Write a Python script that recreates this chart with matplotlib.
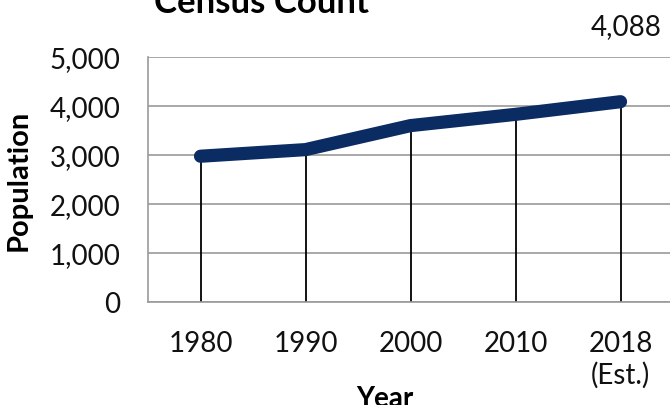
import matplotlib

matplotlib.use("Agg")
import matplotlib.pyplot as plt
from matplotlib.ticker import FuncFormatter

# census counts
YEAR_LABELS = ["1980", "1990", "2000", "2010", "2018\n(Est.)"]
POPULATION = [2975, 3110, 3600, 3830, 4088]
Y_TICKS = [0, 1000, 2000, 3000, 4000, 5000]

LINE_COLOR = "#0b2b63"
GRID_COLOR = "#9a9a9a"
FONT = ["Lato", "DejaVu Sans"]

plt.rcParams["font.family"] = FONT

fig = plt.figure(figsize=(6.7, 4.06), dpi=100)
ax = fig.add_axes([0.2209, 0.2537, 0.7836, 0.6034])

xs = list(range(len(YEAR_LABELS)))

# drop lines from each point to the axis
ax.vlines(xs, 0, POPULATION, color="black", linewidth=1.3, zorder=2)
ax.plot(xs, POPULATION, color=LINE_COLOR, linewidth=9.5,
        solid_capstyle="round", solid_joinstyle="round", zorder=3)

# label only the latest estimate
ax.annotate(f"{POPULATION[-1]:,}", xy=(xs[-1], POPULATION[-1]),
            xytext=(4, 49), textcoords="offset points",
            ha="center", va="baseline", fontsize=20, color="#111111")

ax.set_xlim(-0.5, len(xs) - 0.5)
ax.set_ylim(0, 5000)
ax.set_xticks(xs)
ax.set_xticklabels(YEAR_LABELS, linespacing=1.25)
ax.set_yticks(Y_TICKS)
ax.yaxis.set_major_formatter(FuncFormatter(lambda v, _: f"{int(v):,}"))
ax.tick_params(axis="both", length=0, labelsize=20, colors="#111111")
ax.tick_params(axis="y", pad=20)
ax.tick_params(axis="x", pad=20)

ax.grid(axis="y", color=GRID_COLOR, linewidth=1.2)
ax.set_axisbelow(True)
for side in ["top", "right"]:
    ax.spines[side].set_visible(False)
for side in ["left", "bottom"]:
    ax.spines[side].set_color(GRID_COLOR)
    ax.spines[side].set_linewidth(1.2)

ax.set_ylabel("Population", fontsize=21, fontweight="bold")
ax.yaxis.set_label_coords(-0.222, 0.5)
ax.set_xlabel("Year", fontsize=20, fontweight="bold")
ax.xaxis.set_label_coords(0.451, -0.34)

fig.text(262 / 670, 1 - 13 / 406, "Census Count", ha="center", va="baseline",
         fontsize=25, fontweight="bold")

fig.savefig("out.png", dpi=100)
